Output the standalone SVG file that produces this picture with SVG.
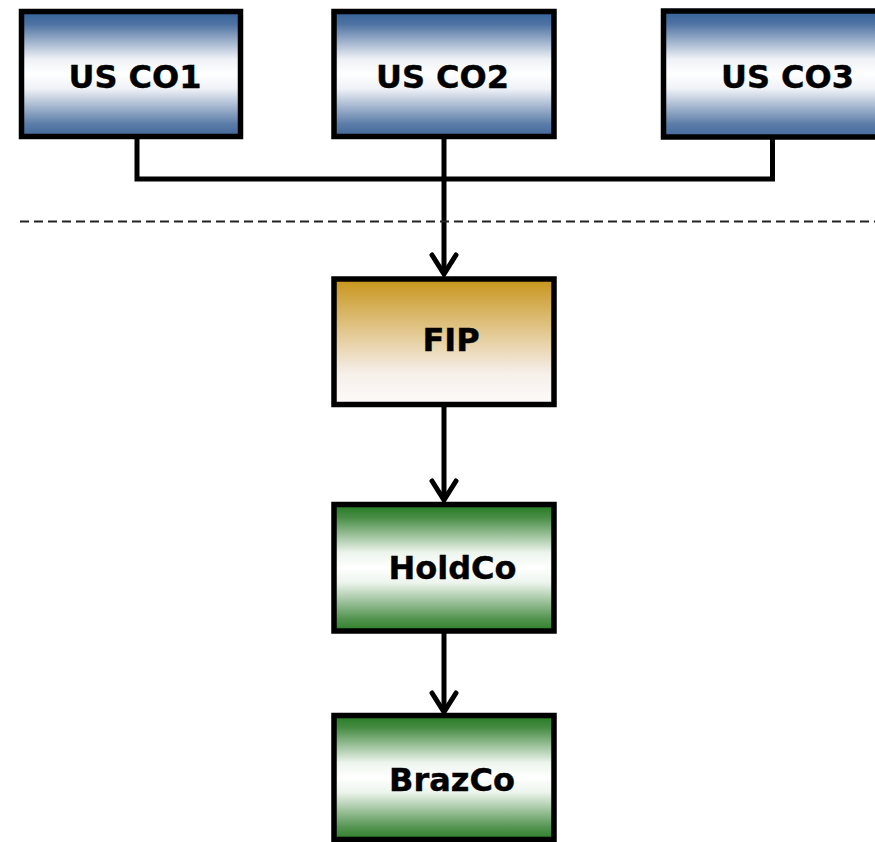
<svg xmlns="http://www.w3.org/2000/svg" width="875" height="842" viewBox="0 0 875 842">
<defs>
<linearGradient id="gBlue" x1="0" y1="0" x2="0" y2="1">
<stop offset="0" stop-color="#33629a"/>
<stop offset="0.1" stop-color="#4e72a2"/>
<stop offset="0.38" stop-color="#eef1f6"/>
<stop offset="0.5" stop-color="#ffffff"/>
<stop offset="0.62" stop-color="#eef1f6"/>
<stop offset="0.9" stop-color="#5b7ca8"/>
<stop offset="1" stop-color="#42689b"/>
</linearGradient>
<linearGradient id="gGreen" x1="0" y1="0" x2="0" y2="1">
<stop offset="0" stop-color="#247b21"/>
<stop offset="0.1" stop-color="#478c44"/>
<stop offset="0.38" stop-color="#ecf4ec"/>
<stop offset="0.5" stop-color="#ffffff"/>
<stop offset="0.62" stop-color="#ecf4ec"/>
<stop offset="0.9" stop-color="#559552"/>
<stop offset="1" stop-color="#2c7f29"/>
</linearGradient>
<linearGradient id="gGold" x1="0" y1="0" x2="0" y2="1">
<stop offset="0" stop-color="#c8951a"/>
<stop offset="0.75" stop-color="#f6efea"/>
<stop offset="1" stop-color="#fdfbfa"/>
</linearGradient>
</defs>
<style>
.box{stroke:#000;stroke-width:5.5}
.lbl{font-family:"DejaVu Sans",Verdana,sans-serif;font-weight:bold;font-size:32px;fill:#000;text-anchor:middle;stroke:#000;stroke-width:0.4}
.ln{fill:none;stroke:#000;stroke-width:5}
.ah{fill:none;stroke:#000;stroke-width:5;stroke-linecap:round;stroke-linejoin:miter}
</style>
<rect width="875" height="842" fill="#fff"/>
<g id="connectors">
<path class="ln" d="M137 137 V179 H772.5 V137"/>
<path class="ln" d="M444 137 V274"/>
<path class="ah" d="M432 255 L444 274 L456 255"/>
<path class="ln" d="M444 404 V500"/>
<path class="ah" d="M432 481 L444 500 L456 481"/>
<path class="ln" d="M444 631 V712"/>
<path class="ah" d="M432 693 L444 712 L456 693"/>
<line x1="20" y1="221.5" x2="875" y2="221.5" stroke="#222" stroke-width="1.8" stroke-dasharray="9,5"/>
</g>
<g id="usco1">
<rect class="box" x="21.5" y="11.5" width="219" height="125" fill="url(#gBlue)"/>
<text class="lbl" x="135" y="88">US CO1</text>
</g>
<g id="usco2">
<rect class="box" x="334" y="11.5" width="220" height="125" fill="url(#gBlue)"/>
<text class="lbl" x="442.5" y="88">US CO2</text>
</g>
<g id="usco3">
<rect class="box" x="663.5" y="11" width="220" height="126" fill="url(#gBlue)"/>
<text class="lbl" x="787.5" y="88">US CO3</text>
</g>
<g id="fip">
<rect class="box" x="334" y="279" width="220" height="125.5" fill="url(#gGold)"/>
<text class="lbl" x="451" y="351">FIP</text>
</g>
<g id="holdco">
<rect class="box" x="334" y="504.5" width="220" height="126.5" fill="url(#gGreen)"/>
<text class="lbl" x="452.5" y="579">HoldCo</text>
</g>
<g id="brazco">
<rect class="box" x="334" y="715.5" width="220" height="124" fill="url(#gGreen)"/>
<text class="lbl" x="452" y="791">BrazCo</text>
</g>
</svg>
